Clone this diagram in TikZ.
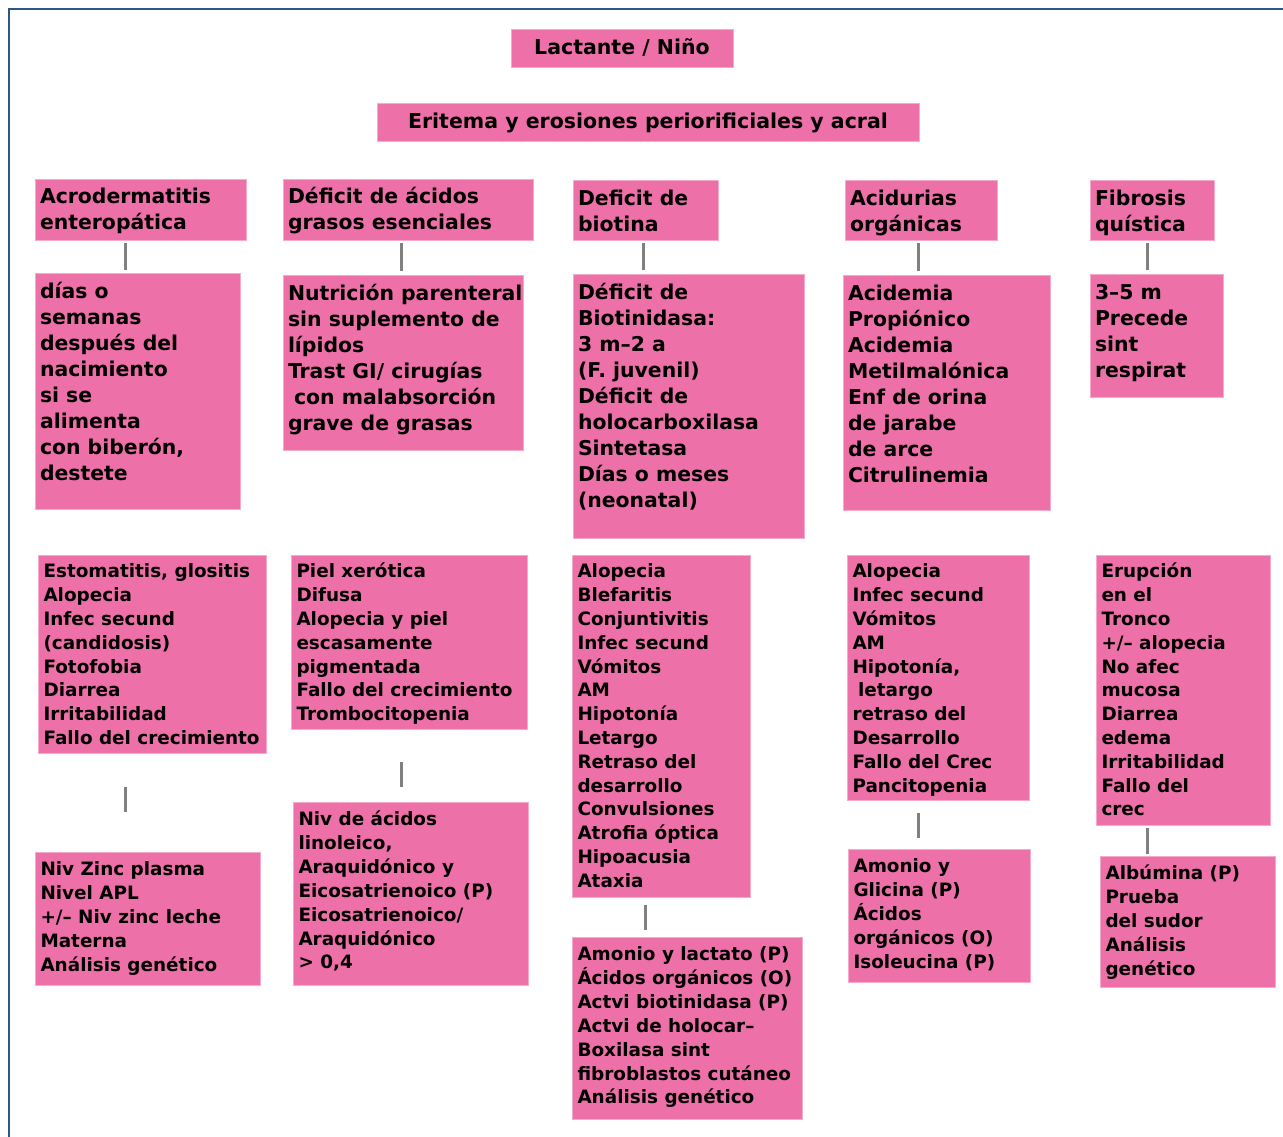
\documentclass[tikz,border=0pt]{standalone}
\usepackage{fontspec}
\setmainfont{DejaVu Sans}
\definecolor{pk}{RGB}{238,112,168}
\definecolor{pkline}{RGB}{246,170,202}
\definecolor{cgray}{RGB}{128,128,128}
\definecolor{frameblue}{RGB}{45,85,135}
\tikzset{
  box/.style={fill=pk, draw=pkline, line width=0.8pt, anchor=north west, inner sep=0pt, outer sep=0pt},
  conn/.style={draw=cgray, line width=3pt},
  frameline/.style={draw=frameblue, line width=2pt}
}
\newcommand\pbox[7]{\node[box] (#1) at (#2,#3) {\begin{minipage}[t][#5pt][t]{#4pt}#6#7\end{minipage}};}
\newcommand\styTop{\bfseries\fontsize{20.5}{26}\selectfont\centering\rule{0pt}{26pt}}
\newcommand\styOne{\bfseries\fontsize{20.4}{26}\selectfont\raggedright\leftskip=5pt\relax\rule{0pt}{25pt}}
\newcommand\styTwo{\bfseries\fontsize{20.4}{26}\selectfont\raggedright\leftskip=5pt\relax\rule{0pt}{25.3pt}}
\newcommand\styThree{\bfseries\fontsize{18.4}{23.8}\selectfont\raggedright\leftskip=5.5pt\relax\rule{0pt}{22.9pt}}
\newcommand\styFour{\bfseries\fontsize{18.4}{23.9}\selectfont\raggedright\leftskip=5.5pt\relax\rule{0pt}{23.5pt}}
\begin{document}
\begin{tikzpicture}[x=1pt,y=-1pt]
\useasboundingbox (0,0) rectangle (1283,1137);
\fill[white] (0,0) rectangle (1283,1137);
\draw[frameline] (1283,9) -- (9,9) -- (9,1137);

% top
\pbox{top}{511}{29}{222}{38}{\styTop}{Lactante / Niño}
\pbox{eri}{377}{103}{542}{38}{\styTop}{Eritema y erosiones periorificiales y acral}

% row 1
\pbox{A1}{35}{179}{211}{61}{\styOne}{Acrodermatitis\\enteropática}
\pbox{B1}{283}{179}{250}{61}{\styOne}{Déficit de ácidos\\grasos esenciales}
\pbox{C1}{573}{180}{145}{60}{\styOne}{Deficit de\\biotina}
\pbox{D1}{845}{180}{152}{60}{\styOne}{Acidurias\\orgánicas}
\pbox{E1}{1090}{180}{124}{60}{\styOne}{Fibrosis\\quística}

% row 2
\pbox{A2}{35}{273}{205}{236}{\styTwo}{días o\\semanas\\después del\\nacimiento\\si se\\alimenta\\con biberón,\\destete}
\pbox{B2}{283}{275}{240}{175}{\styTwo}{Nutrición parenteral\\sin suplemento de\\lípidos\\Trast GI/ cirugías\\\hspace*{0.3em}con malabsorción\\grave de grasas}
\pbox{C2}{573}{274}{231}{264}{\styTwo}{Déficit de\\Biotinidasa:\\3 m–2 a\\(F. juvenil)\\Déficit de\\holocarboxilasa\\Sintetasa\\Días o meses\\(neonatal)}
\pbox{D2}{843}{275}{207}{235}{\styTwo}{Acidemia\\Propiónico\\Acidemia\\Metilmalónica\\Enf de orina\\de jarabe\\de arce\\Citrulinemia}
\pbox{E2}{1090}{274}{133}{123}{\styTwo}{3–5 m\\Precede\\sint\\respirat}

% row 3
\pbox{A3}{38}{555}{228}{198}{\styThree}{Estomatitis, glositis\\Alopecia\\Infec secund\\(candidosis)\\Fotofobia\\Diarrea\\Irritabilidad\\Fallo del crecimiento}
\pbox{B3}{291}{555}{236}{174}{\styThree}{Piel xerótica\\Difusa\\Alopecia y piel\\escasamente\\pigmentada\\Fallo del crecimiento\\Trombocitopenia}
\pbox{C3}{572}{555}{178}{342}{\styThree}{Alopecia\\Blefaritis\\Conjuntivitis\\Infec secund\\Vómitos\\AM\\Hipotonía\\Letargo\\Retraso del\\desarrollo\\Convulsiones\\Atrofia óptica\\Hipoacusia\\Ataxia}
\pbox{D3}{847}{555}{182}{245}{\styThree}{Alopecia\\Infec secund\\Vómitos\\AM\\Hipotonía,\\\hspace*{0.3em}letargo\\retraso del\\Desarrollo\\Fallo del Crec\\Pancitopenia}
\pbox{E3}{1096}{555}{174}{270}{\styThree}{Erupción\\en el\\Tronco\\+/– alopecia\\No afec\\mucosa\\Diarrea\\edema\\Irritabilidad\\Fallo del\\crec}

% row 4
\pbox{A4}{35}{852}{225}{133}{\styFour}{Niv Zinc plasma\\Nivel APL\\+/– Niv zinc leche\\Materna\\Análisis genético}
\pbox{B4}{293}{802}{235}{183}{\styFour}{Niv de ácidos\\linoleico,\\Araquidónico y\\Eicosatrienoico (P)\\Eicosatrienoico/\\Araquidónico\\> 0,4}
\pbox{C4}{572}{937}{230}{182}{\styFour}{Amonio y lactato (P)\\Ácidos orgánicos (O)\\Actvi biotinidasa (P)\\Actvi de holocar–\\Boxilasa sint\\fibroblastos cutáneo\\Análisis genético}
\pbox{D4}{848}{849}{182}{133}{\styFour}{Amonio y\\Glicina (P)\\Ácidos\\orgánicos (O)\\Isoleucina (P)}
\pbox{E4}{1100}{856}{175}{131}{\styFour}{Albúmina (P)\\Prueba\\del sudor\\Análisis\\genético}

% connector x positions
\coordinate (xA) at (125,0);
\coordinate (xB) at (401,0);
\coordinate (xC) at (643,0);
\coordinate (xCb) at (645,0);
\coordinate (xD) at (918,0);
\coordinate (xE) at (1147,0);

% connectors row1-row2
\draw[conn, shorten <=3pt, shorten >=3pt] (A1.south -| xA) -- (A2.north -| xA);
\draw[conn, shorten <=3pt, shorten >=4pt] (B1.south -| xB) -- (B2.north -| xB);
\draw[conn, shorten <=3pt, shorten >=4pt] (C1.south -| xC) -- (C2.north -| xC);
\draw[conn, shorten <=3pt, shorten >=4pt] (D1.south -| xD) -- (D2.north -| xD);
\draw[conn, shorten <=3pt, shorten >=4pt] (E1.south -| xE) -- (E2.north -| xE);

% connectors row3-row4
\draw[conn, shorten <=34pt, shorten >=40pt] (A3.south -| xA) -- (A4.north -| xA);
\draw[conn, shorten <=33pt, shorten >=15pt] (B3.south -| xB) -- (B4.north -| xB);
\draw[conn, shorten <=8pt, shorten >=7pt] (C3.south -| xCb) -- (C4.north -| xCb);
\draw[conn, shorten <=13pt, shorten >=11pt] (D3.south -| xD) -- (D4.north -| xD);
\draw[conn, shorten <=3pt, shorten >=2pt] (E3.south -| xE) -- (E4.north -| xE);
\end{tikzpicture}
\end{document}
